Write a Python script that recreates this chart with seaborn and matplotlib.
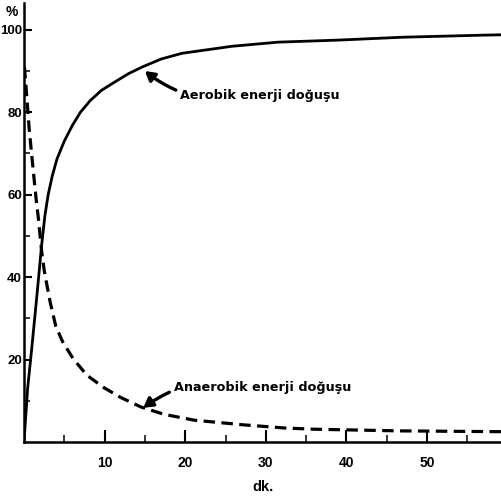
import matplotlib
matplotlib.use("Agg")
import matplotlib.pyplot as plt
import seaborn as sns
import pandas as pd

# ---- data (minutes, % of energy) ----
aerobic_t = [0, 0.45, 0.95, 1.55, 2.2, 2.6, 3.0, 3.5, 4.1, 5.0, 6.0, 7.0, 8.2,
             9.6, 11.4, 13.0, 14.7, 17.0, 19.6, 25.8, 31.5, 39, 47, 57, 59.5]
aerobic_v = [0, 13, 22.5, 34.5, 48, 55, 60, 64.5, 68.7, 73, 76.8, 80, 82.8,
             85.3, 87.5, 89.4, 91, 92.9, 94.3, 96, 97, 97.5, 98.2, 98.7, 98.8]

anaerobic_t = [0.05, 0.26, 0.64, 1.14, 1.5, 1.8, 2.2, 2.54, 3.25, 3.94, 4.8,
               6.1, 7.8, 9.9, 12.0, 14.5, 17.4, 21.1, 27, 32.3, 36, 46.5, 59.5]
anaerobic_v = [91, 86, 76, 66, 59, 54, 46, 41.2, 33.9, 28.1, 24.3,
               20.2, 16.2, 13.2, 10.8, 8.5, 6.7, 5.3, 4.2, 3.4, 3.1, 2.7, 2.5]

x_major = [10, 20, 30, 40, 50]
x_minor = [5, 15, 25, 35, 45, 55]
y_major = [20, 40, 60, 80, 100]
y_minor = [10, 30, 50, 70, 90]
x_label = "dk."
y_unit = "%"
aerobic_label = "Aerobik enerji doğuşu"
anaerobic_label = "Anaerobik enerji doğuşu"

sns.set_theme(style="white")
plt.rcParams["font.family"] = ["DejaVu Sans"]
plt.rcParams["text.color"] = "black"
tick_font = "Liberation Sans"

fig = plt.figure(figsize=(5.02, 5.0), dpi=100)
ax = fig.add_axes([24 / 502, 58 / 500, 478 / 502, 439 / 500])

df_a = pd.DataFrame({"t": aerobic_t, "v": aerobic_v})
df_b = pd.DataFrame({"t": anaerobic_t, "v": anaerobic_v})
sns.lineplot(data=df_a, x="t", y="v", ax=ax, color="black", lw=2.0,
             sort=False, estimator=None)
sns.lineplot(data=df_b, x="t", y="v", ax=ax, color="black", lw=2.3,
             sort=False, estimator=None)
ax.lines[-1].set_dashes((3.6, 2.0))
for ln in ax.lines:
    ln.set_solid_capstyle("round")
    ln.set_solid_joinstyle("round")
    ln.set_dash_capstyle("butt")

ax.set_xlim(0, 59.3)
ax.set_ylim(0, 106.5)
ax.set_xticks(x_major)
ax.set_xticks(x_minor, minor=True)
ax.set_yticks(y_major)
ax.set_yticks(y_minor, minor=True)
ax.set_xticklabels([str(v) for v in x_major], fontfamily=tick_font,
                   fontweight="bold", fontsize=10)
ax.set_yticklabels([str(v) for v in y_major], fontfamily=tick_font,
                   fontweight="bold", fontsize=9.5)
ax.tick_params(axis="x", which="major", direction="in", length=9, width=1.5,
               pad=10, colors="black", bottom=True)
ax.tick_params(axis="x", which="minor", direction="in", length=5, width=1.3,
               bottom=True)
ax.tick_params(axis="y", which="major", direction="in", length=6, width=1.5,
               pad=1.5, colors="black", left=True)
ax.tick_params(axis="y", which="minor", direction="in", length=4, width=1.3,
               left=True)

for side in ("top", "right"):
    ax.spines[side].set_visible(False)
for side in ("left", "bottom"):
    ax.spines[side].set_color("black")
    ax.spines[side].set_linewidth(1.8)

ax.set_xlabel(x_label, fontfamily=tick_font, fontweight="bold", fontsize=10.5,
              labelpad=7, color="black")
ax.set_ylabel("")
ax.text(-1.5, 104.3, y_unit, fontfamily=tick_font, fontweight="bold",
        fontsize=10, ha="center", va="center", clip_on=False, color="black")

ax.annotate(aerobic_label, xy=(15.0, 90.0), xytext=(19.4, 84.0),
            fontsize=9.2, fontweight="bold", ha="left", va="center",
            color="black",
            arrowprops=dict(arrowstyle="-|>,head_width=0.35,head_length=0.6",
                            connectionstyle="arc3,rad=-0.25", lw=2.4,
                            color="black", shrinkA=1, shrinkB=0))
ax.annotate(anaerobic_label, xy=(14.8, 8.3), xytext=(18.6, 13.3),
            fontsize=9.2, fontweight="bold", ha="left", va="center",
            color="black",
            arrowprops=dict(arrowstyle="-|>,head_width=0.35,head_length=0.6",
                            connectionstyle="arc3,rad=0.25", lw=2.4,
                            color="black", shrinkA=1, shrinkB=0))

ax.set_facecolor("white")
fig.patch.set_facecolor("white")
fig.savefig("out.png", dpi=100)
